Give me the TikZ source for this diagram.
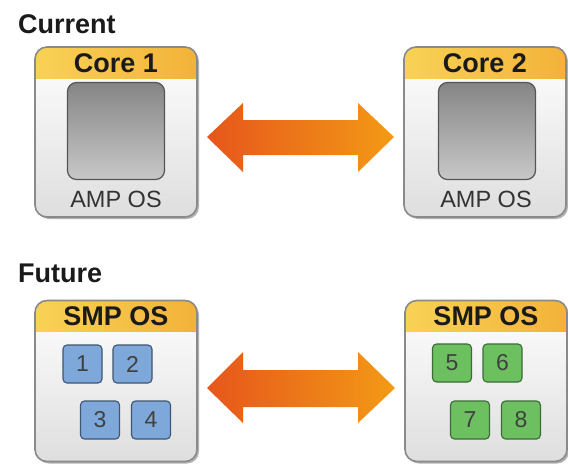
\documentclass[tikz,border=0pt]{standalone}
\usepackage{fontspec}
\setmainfont{Liberation Sans}
\usetikzlibrary{shadows}
\definecolor{hdrL}{HTML}{F8D255}
\definecolor{hdrR}{HTML}{F3B23A}
\definecolor{boxline}{HTML}{8A8A8A}
\definecolor{boxbot}{HTML}{DEDEDE}
\definecolor{arrL}{HTML}{E6561B}
\definecolor{arrR}{HTML}{F39A16}
\definecolor{grayT}{HTML}{858585}
\definecolor{grayB}{HTML}{C8C8C8}
\definecolor{grayline}{HTML}{555555}
\definecolor{blueF}{HTML}{7EA8DA}
\definecolor{blueL}{HTML}{3C5673}
\definecolor{greenF}{HTML}{6CC060}
\definecolor{greenL}{HTML}{3D6A38}
\definecolor{txt}{HTML}{1A1A1A}
\tikzset{
  corebox/.style={rounded corners=12pt, minimum width=162pt, inner sep=0pt, outer sep=0pt,
    top color=white, bottom color=boxbot,
    drop shadow={shadow xshift=2pt, shadow yshift=-2pt, opacity=0.3, fill=black}},
  hdrtext/.style={font=\fontsize{27}{30}\selectfont\bfseries, text=txt, inner sep=0pt},
  titletext/.style={font=\fontsize{27}{30}\selectfont\bfseries, text=txt, inner sep=0pt},
  ostext/.style={font=\fontsize{23.5}{26}\selectfont, text=black!80, inner sep=0pt},
  graysq/.style={draw=grayline, line width=1.2pt, rounded corners=9pt, minimum width=97pt, minimum height=97pt,
    top color=grayT, bottom color=grayB, inner sep=0pt},
  tsk/.style={line width=1.1pt, rounded corners=4pt, minimum width=39pt, minimum height=38pt, inner sep=0pt,
    font=\fontsize{23}{25}\selectfont, text=black!75},
  bluesq/.style={tsk, draw=blueL, fill=blueF},
  greensq/.style={tsk, draw=greenL, fill=greenF},
  arrowshape/.style={left color=arrL, right color=arrR}
}
\newcommand\mkbox[5]{%
  \node[corebox, minimum height=#4pt] (#1) at (#2,#3) {};
  \begin{scope}
    \clip[rounded corners=12pt] (#1.south west) rectangle (#1.north east);
    \shade[left color=hdrL, right color=hdrR] (#1.north west) rectangle ([yshift=-31pt]#1.north east);
  \end{scope}
  \draw[boxline, line width=1.6pt, rounded corners=12pt] (#1.south west) rectangle (#1.north east);
  \node[hdrtext] (#1-h) at ([yshift=-16pt]#1.north) {#5};
}
\begin{document}
\begin{tikzpicture}[x=1pt,y=1pt]
\useasboundingbox[fill=white] (0,0) rectangle (568,-464);
% titles
\node[titletext, anchor=base west] (tcur) at (18,-33) {Current};
\node[titletext, anchor=base west] (tfut) at (18,-282) {Future};
% current row
\mkbox{c1}{116}{-132}{170}{Core 1}
\mkbox{c2}{485}{-132}{170}{Core 2}
\node[graysq] (g1) at (116,-131) {};
\node[graysq] (g2) at (487,-131) {};
\node[ostext] (o1) at (116,-199) {AMP OS};
\node[ostext] (o2) at (486,-199) {AMP OS};
\shade[arrowshape] (207,-137) -- (243,-103) -- (243,-120) -- (358,-120) -- (358,-103)
  -- (394,-137) -- (358,-172) -- (358,-155) -- (243,-155) -- (243,-172) -- cycle;
% future row
\mkbox{s1}{116}{-381}{161}{SMP OS}
\mkbox{s2}{486}{-381}{161}{SMP OS}
\node[bluesq] (t1) at (82.5,-364) {1};
\node[bluesq] (t2) at (132.5,-364) {2};
\node[bluesq] (t3) at (100,-420) {3};
\node[bluesq] (t4) at (151,-420) {4};
\node[greensq] (t5) at (452,-363) {5};
\node[greensq] (t6) at (502.5,-363) {6};
\node[greensq] (t7) at (470,-420) {7};
\node[greensq] (t8) at (521,-420) {8};
\shade[arrowshape] (207,-388) -- (243,-352) -- (243,-370) -- (358,-370) -- (358,-352)
  -- (395,-388) -- (358,-423) -- (358,-407) -- (243,-407) -- (243,-423) -- cycle;
\end{tikzpicture}
\end{document}
